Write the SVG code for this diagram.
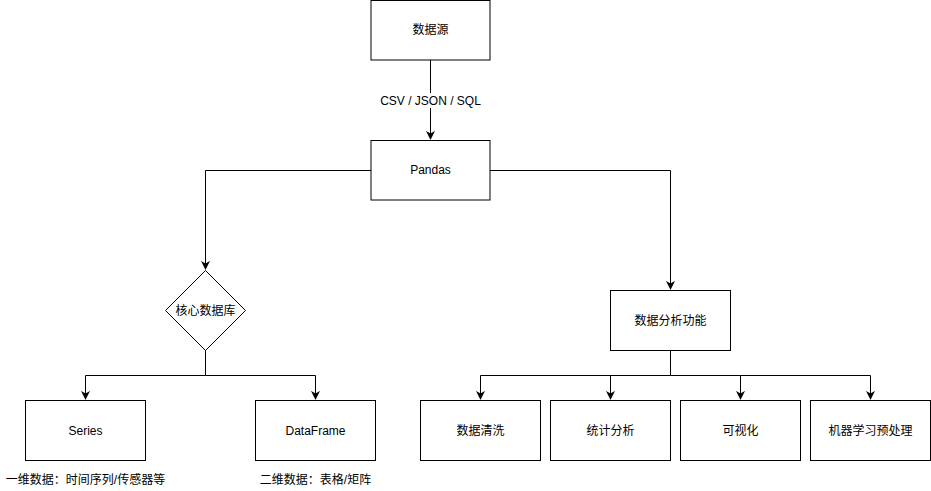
<svg xmlns="http://www.w3.org/2000/svg" width="931" height="491" viewBox="0 0 931 491">
<style>
.n{fill:#fff;stroke:#000;stroke-width:1}
.e{fill:none;stroke:#000;stroke-width:1}
text{font-family:"Liberation Sans","Noto Sans CJK SC",sans-serif;font-size:12px;fill:#000;text-anchor:middle;dominant-baseline:central}
</style>
<defs>
<marker id="a" viewBox="0 0 10 10" refX="9" refY="5" markerWidth="9" markerHeight="9" markerUnits="userSpaceOnUse" orient="auto">
<path d="M0,0 L10,5 L0,10 L3,5 z" fill="#000"/>
</marker>
</defs>
<rect width="931" height="491" fill="#fff"/>
<g id="edges">
<path class="e" d="M430.5,60 V139" marker-end="url(#a)"/>
<rect x="383" y="93" width="95" height="15" fill="#fff"/>
<text x="430.5" y="100.5">CSV / JSON / SQL</text>
<path class="e" d="M371,170.5 H205.5 V269" marker-end="url(#a)"/>
<path class="e" d="M490,170.5 H670.5 V289" marker-end="url(#a)"/>
<path class="e" d="M205.5,350 V375.5 H85.5 V399" marker-end="url(#a)"/>
<path class="e" d="M205.5,375.5 H315.5 V399" marker-end="url(#a)"/>
<path class="e" d="M670.5,350 V375.5 H480.5 V399" marker-end="url(#a)"/>
<path class="e" d="M610.5,375.5 V399" marker-end="url(#a)"/>
<path class="e" d="M670.5,375.5 H740.5 V399" marker-end="url(#a)"/>
<path class="e" d="M740.5,375.5 H870.5 V399" marker-end="url(#a)"/>
</g>
<g id="source"><rect class="n" x="371" y="0.5" width="119" height="59.5"/><text x="430.5" y="30">数据源</text></g>
<g id="pandas"><rect class="n" x="371" y="140.5" width="119" height="59.5"/><text x="430.5" y="170">Pandas</text></g>
<g id="core"><path class="n" d="M205.5,270.5 L245.5,310.5 L205.5,350.5 L165.5,310.5 Z"/><text x="205.5" y="310.5">核心数据库</text></g>
<g id="series"><rect class="n" x="25.5" y="400.5" width="120" height="60"/><text x="85.5" y="430.5">Series</text><text x="85.5" y="479.5">一维数据：时间序列/传感器等</text></g>
<g id="dataframe"><rect class="n" x="255.5" y="400.5" width="120" height="60"/><text x="315.5" y="430.5">DataFrame</text><text x="315.5" y="479.5">二维数据：表格/矩阵</text></g>
<g id="analysis"><rect class="n" x="610.5" y="290.5" width="120" height="60"/><text x="670.5" y="320.5">数据分析功能</text></g>
<g id="clean"><rect class="n" x="420.5" y="400.5" width="120" height="60"/><text x="480.5" y="430.5">数据清洗</text></g>
<g id="stats"><rect class="n" x="550.5" y="400.5" width="120" height="60"/><text x="610.5" y="430.5">统计分析</text></g>
<g id="viz"><rect class="n" x="680.5" y="400.5" width="120" height="60"/><text x="740.5" y="430.5">可视化</text></g>
<g id="ml"><rect class="n" x="810.5" y="400.5" width="120" height="60"/><text x="870.5" y="430.5">机器学习预处理</text></g>
</svg>
